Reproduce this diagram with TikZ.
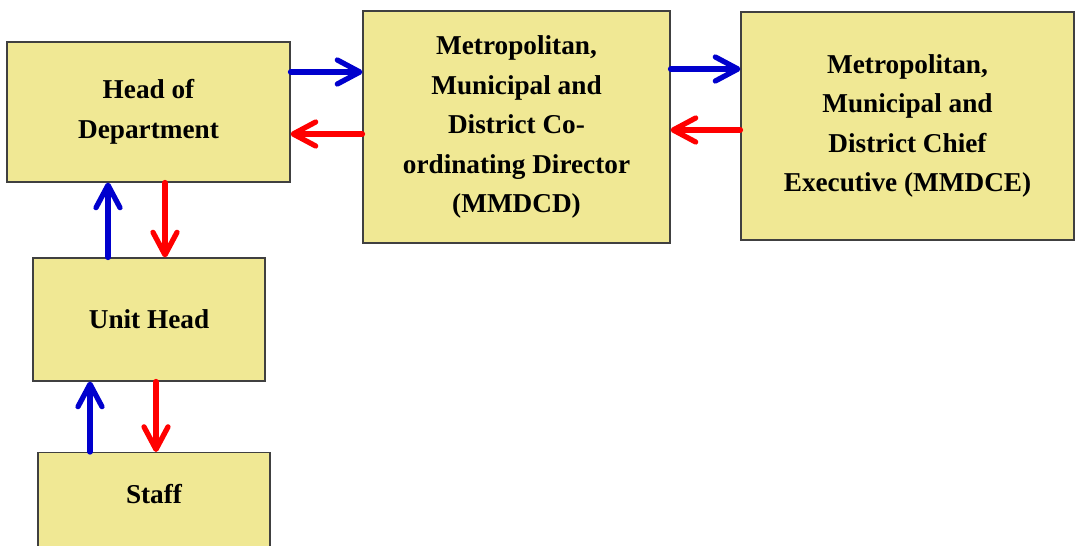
\documentclass[tikz,border=0pt]{standalone}
\usepackage{fontspec}
\setmainfont{Liberation Serif}
\usetikzlibrary{arrows.meta, positioning, calc}
\definecolor{boxkhaki}{RGB}{240, 232, 148}
\definecolor{boxline}{RGB}{64, 64, 64}
\definecolor{upblue}{RGB}{0, 0, 205}
\definecolor{downred}{RGB}{255, 0, 0}

\begin{document}
\begin{tikzpicture}[
    orgbox/.style={rectangle, draw=boxline, line width=0.6pt, fill=boxkhaki, align=center, font=\fontsize{15.5}{22.5}\selectfont\bfseries},
    uparrow/.style={draw=upblue, line width=3pt, line cap=round, -{Straight Barb[length=0.45cm, width=0.48cm, line cap=round, line join=round]}},
    downarrow/.style={draw=downred, line width=3pt, line cap=round, -{Straight Barb[length=0.45cm, width=0.48cm, line cap=round, line join=round]}}
]

\clip (0,0) rectangle (21.5,10.9);

% Boxes
\node (head_dept) [orgbox, minimum width=5.66cm, minimum height=2.8cm] at (2.97,8.66) {Head of\\Department};
\node (mmdcd) [orgbox, minimum width=6.14cm, minimum height=4.64cm] at (10.33,8.36) {Metropolitan,\\Municipal and\\District Co-\\ordinating Director\\(MMDCD)};
\node (mmdce) [orgbox, minimum width=6.66cm, minimum height=4.56cm] at (18.15,8.38) {Metropolitan,\\Municipal and\\District Chief\\Executive (MMDCE)};
\node (unit_head) [orgbox, minimum width=4.64cm, minimum height=2.46cm] at (2.98,4.51) {Unit Head};
\node (staff) [orgbox, minimum width=4.64cm, text height=0.9cm, text depth=1.2cm, anchor=north] at (3.08,1.86) {Staff};

% Arrows up the line
\draw [uparrow] (head_dept.east |- 0,9.46) -- (mmdcd.west |- 0,9.46);
\draw [uparrow] (mmdcd.east |- 0,9.52) -- (mmdce.west |- 0,9.52);
\draw [uparrow] (unit_head.north -| 2.16,0) -- (head_dept.south -| 2.16,0);
\draw [uparrow] (staff.north -| 1.80,0) -- (unit_head.south -| 1.80,0);

% Arrows down the line
\draw [downarrow] (mmdcd.west |- 0,8.22) -- (head_dept.east |- 0,8.22);
\draw [downarrow] (mmdce.west |- 0,8.30) -- (mmdcd.east |- 0,8.30);
\draw [downarrow] (head_dept.south -| 3.30,0) -- (unit_head.north -| 3.30,0);
\draw [downarrow] (unit_head.south -| 3.12,0) -- (staff.north -| 3.12,0);

\end{tikzpicture}
\end{document}
